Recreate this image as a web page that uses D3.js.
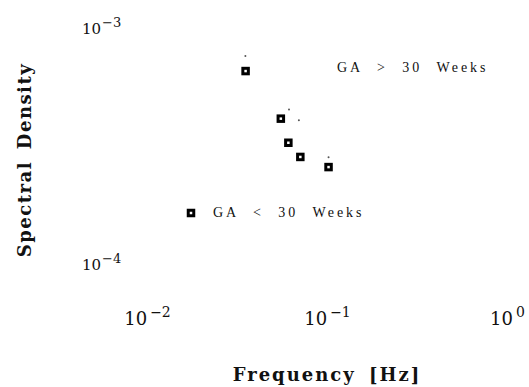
<!DOCTYPE html>
<html>
<head>
<meta charset="utf-8">
<script src="https://cdn.jsdelivr.net/npm/d3@7"></script>
<style>
  body { margin: 0; background: #fff; }
  svg text { fill: #111; }
</style>
</head>
<body>
<svg id="chart" width="529" height="387"></svg>
<script>
// data (log-log)
const freqLow = [0.0353, 0.0554, 0.061, 0.0711, 0.102];      // GA < 30 weeks (squares)
const densLow = [6.38e-4, 4.01e-4, 3.17e-4, 2.76e-4, 2.5e-4];
const freqHigh = [0.0352, 0.0615, 0.0698, 0.102];            // GA > 30 weeks (tiny dots)
const densHigh = [7.39e-4, 4.39e-4, 3.95e-4, 2.75e-4];
const xTicks = [1e-2, 1e-1, 1e0];
const xExp = ['\u22122', '\u22121', '0'];
const yTicks = [1e-3, 1e-4];
const yExp = ['\u22123', '\u22124'];
const legendLabels = ['GA > 30 Weeks', 'GA < 30 Weeks'];

const width = 529, height = 387;
const svg = d3.select('#chart');

const x = d3.scaleLog().domain([1e-2, 1]).range([147, 507]);
const y = d3.scaleLog().domain([1e-4, 1e-3]).range([261, 25]);

// x axis: labels only, no line or ticks
const gx = svg.append('g')
  .attr('transform', 'translate(0,325)')
  .call(d3.axisBottom(x).tickValues(xTicks).tickSize(0).tickFormat(''));
gx.select('.domain').remove();
gx.selectAll('.tick text').remove();
gx.selectAll('.tick').append('text')
  .style('text-anchor', 'middle')
  .style('font-family', 'DejaVu Serif')
  .style('font-size', '18px')
  .each(function (d, i) {
    const t = d3.select(this);
    t.append('tspan').text('10');
    t.append('tspan').attr('dx', 3).attr('dy', -8).style('font-size', '14px').text(xExp[i]);
  });

// y axis: labels only
const gy = svg.append('g')
  .call(d3.axisLeft(y).tickValues(yTicks).tickSize(0).tickFormat(''));
gy.select('.domain').remove();
gy.selectAll('.tick text').remove();
gy.selectAll('.tick').append('text')
  .attr('x', 82)
  .attr('y', 8)
  .style('text-anchor', 'start')
  .style('font-family', 'DejaVu Serif')
  .style('font-size', '15px')
  .each(function (d, i) {
    const t = d3.select(this);
    t.append('tspan').text('10');
    t.append('tspan').attr('dx', 1).attr('dy', -7).style('font-size', '13px').text(yExp[i]);
  });

// axis titles
svg.append('text')
  .attr('x', 327).attr('y', 381)
  .attr('text-anchor', 'middle')
  .attr('font-family', 'DejaVu Serif')
  .attr('font-weight', 'bold')
  .attr('font-size', 18)
  .attr('letter-spacing', 2)
  .attr('word-spacing', 5)
  .text('Frequency [Hz]');

svg.append('text')
  .attr('transform', 'translate(31,160) rotate(-90)')
  .attr('text-anchor', 'middle')
  .attr('font-family', 'DejaVu Serif')
  .attr('font-weight', 'bold')
  .attr('font-size', 18)
  .attr('letter-spacing', 1.5)
  .attr('word-spacing', 4)
  .text('Spectral Density');

// GA > 30: tiny dots
svg.append('g').selectAll('circle')
  .data(freqHigh)
  .join('circle')
  .attr('cx', (d) => x(d))
  .attr('cy', (d, i) => y(densHigh[i]))
  .attr('r', 1)
  .attr('fill', '#555');

// GA < 30: hollow squares
const sq = 5.5;
svg.append('g').selectAll('rect')
  .data(freqLow)
  .join('rect')
  .attr('x', (d) => x(d) - sq / 2)
  .attr('y', (d, i) => y(densLow[i]) - sq / 2)
  .attr('width', sq).attr('height', sq)
  .attr('fill', '#fff')
  .attr('stroke', '#000')
  .attr('stroke-width', 3);

// legend-like labels
svg.append('text')
  .attr('x', 337).attr('y', 72)
  .attr('font-family', 'Liberation Serif')
  .attr('font-size', 14)
  .attr('letter-spacing', 3)
  .attr('word-spacing', 8)
  .text(legendLabels[0]);

svg.append('rect')
  .attr('x', 191 - sq / 2).attr('y', 213 - sq / 2)
  .attr('width', sq).attr('height', sq)
  .attr('fill', '#fff')
  .attr('stroke', '#000')
  .attr('stroke-width', 3);

svg.append('text')
  .attr('x', 213).attr('y', 217)
  .attr('font-family', 'Liberation Serif')
  .attr('font-size', 14)
  .attr('letter-spacing', 3)
  .attr('word-spacing', 8)
  .text(legendLabels[1]);
</script>
</body>
</html>
